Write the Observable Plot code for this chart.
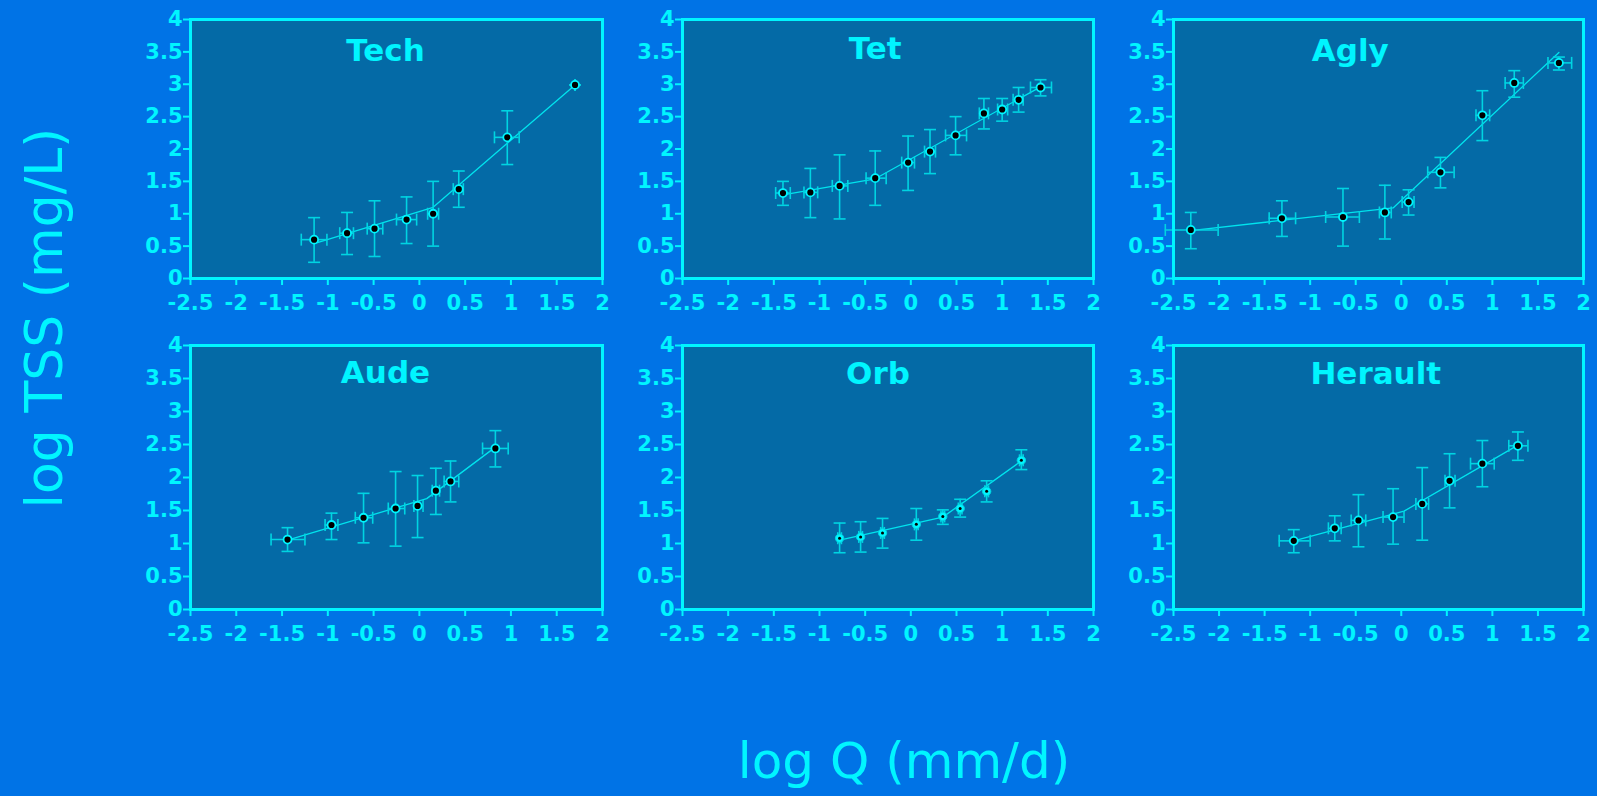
<!DOCTYPE html>
<html>
<head>
<meta charset="utf-8">
<script src="https://cdn.jsdelivr.net/npm/d3@7"></script>
<script src="https://cdn.jsdelivr.net/npm/@observablehq/plot@0.6"></script>
<style>
  html, body { margin: 0; padding: 0; background: #0073E6; overflow: hidden; }
  #root { position: relative; width: 1597px; height: 796px; background: #0073E6; }
  .big { position: absolute; font-family: "DejaVu Sans", sans-serif; color: #00F5FF; white-space: nowrap; }
</style>
</head>
<body>
<div id="root"></div>
<script>
// ---------- data ----------
const panelNames = ["Tech", "Tet", "Agly", "Aude", "Orb", "Herault"];
const titleX = [-0.37, -0.39, -0.56, -0.37, -0.36, -0.28];
const titleY = [3.52, 3.54, 3.52, 3.58, 3.57, 3.57];
const xTicks = [-2.5, -2, -1.5, -1, -0.5, 0, 0.5, 1, 1.5, 2];
const yTicks = [0, 0.5, 1, 1.5, 2, 2.5, 3, 3.5, 4];

const techX    = [-1.15, -0.79, -0.49, -0.14, 0.15, 0.43, 0.96, 1.70];
const techY    = [0.60, 0.70, 0.77, 0.91, 1.00, 1.38, 2.18, 2.99];
const techYLo  = [0.25, 0.37, 0.34, 0.54, 0.50, 1.10, 1.76, 2.99];
const techYHi  = [0.94, 1.02, 1.20, 1.26, 1.50, 1.66, 2.59, 2.99];
const techXLo  = [-1.29, -0.87, -0.57, -0.25, 0.09, 0.37, 0.82, 1.70];
const techXHi  = [-1.01, -0.72, -0.40, -0.03, 0.21, 0.48, 1.09, 1.70];
const techLineX = [-1.15, 0.15, 1.70];
const techLineY = [0.54, 1.10, 2.99];

const tetX    = [-1.40, -1.10, -0.78, -0.39, -0.03, 0.21, 0.49, 0.80, 1.00, 1.18, 1.42];
const tetY    = [1.32, 1.33, 1.43, 1.55, 1.79, 1.96, 2.21, 2.55, 2.61, 2.76, 2.95];
const tetYLo  = [1.13, 0.94, 0.92, 1.13, 1.36, 1.62, 1.91, 2.31, 2.43, 2.57, 2.82];
const tetYHi  = [1.50, 1.70, 1.91, 1.97, 2.20, 2.30, 2.50, 2.78, 2.78, 2.95, 3.07];
const tetXLo  = [-1.48, -1.17, -0.86, -0.49, -0.10, 0.15, 0.38, 0.75, 0.95, 1.12, 1.31];
const tetXHi  = [-1.32, -1.02, -0.69, -0.27, 0.04, 0.27, 0.61, 0.85, 1.06, 1.23, 1.54];
const tetLineX = [-1.40, -0.39, 1.42];
const tetLineY = [1.29, 1.54, 2.96];

const aglyX    = [-2.31, -1.31, -0.64, -0.18, 0.08, 0.43, 0.89, 1.24, 1.73];
const aglyY    = [0.75, 0.93, 0.95, 1.02, 1.18, 1.64, 2.52, 3.02, 3.33];
const aglyYLo  = [0.46, 0.65, 0.50, 0.61, 0.98, 1.40, 2.13, 2.80, 3.22];
const aglyYHi  = [1.02, 1.20, 1.39, 1.44, 1.37, 1.87, 2.90, 3.21, 3.42];
const aglyXLo  = [-2.59, -1.45, -0.83, -0.24, 0.01, 0.29, 0.82, 1.14, 1.61];
const aglyXHi  = [-2.01, -1.16, -0.46, -0.11, 0.14, 0.58, 0.97, 1.34, 1.87];
const aglyLineX = [-2.31, -0.09, 1.73];
const aglyLineY = [0.74, 1.09, 3.49];

const audeX    = [-1.44, -0.96, -0.61, -0.26, -0.02, 0.18, 0.34, 0.83];
const audeY    = [1.06, 1.28, 1.39, 1.53, 1.57, 1.80, 1.94, 2.44];
const audeYLo  = [0.88, 1.06, 1.01, 0.96, 1.09, 1.44, 1.63, 2.16];
const audeYHi  = [1.24, 1.46, 1.76, 2.09, 2.03, 2.14, 2.25, 2.71];
const audeXLo  = [-1.62, -1.03, -0.70, -0.34, -0.06, 0.14, 0.27, 0.69];
const audeXHi  = [-1.25, -0.89, -0.51, -0.16, 0.04, 0.22, 0.43, 0.97];
const audeLineX = [-1.44, 0.08, 0.83];
const audeLineY = [1.05, 1.68, 2.46];

const orbX    = [-0.78, -0.55, -0.31, 0.06, 0.35, 0.54, 0.83, 1.21];
const orbY    = [1.08, 1.10, 1.16, 1.29, 1.41, 1.53, 1.79, 2.26];
const orbYLo  = [0.86, 0.87, 0.93, 1.05, 1.29, 1.40, 1.63, 2.12];
const orbYHi  = [1.31, 1.33, 1.38, 1.53, 1.51, 1.67, 1.95, 2.42];
const orbXLo  = [-0.80, -0.57, -0.33, 0.04, 0.33, 0.52, 0.81, 1.19];
const orbXHi  = [-0.76, -0.53, -0.29, 0.08, 0.37, 0.56, 0.85, 1.23];
const orbLineX = [-0.78, 0.35, 1.21];
const orbLineY = [1.05, 1.40, 2.25];

const herX    = [-1.18, -0.73, -0.47, -0.09, 0.23, 0.53, 0.89, 1.28];
const herY    = [1.04, 1.23, 1.35, 1.40, 1.60, 1.95, 2.21, 2.48];
const herYLo  = [0.86, 1.04, 0.95, 0.99, 1.05, 1.54, 1.86, 2.26];
const herYHi  = [1.21, 1.42, 1.74, 1.83, 2.15, 2.36, 2.56, 2.69];
const herXLo  = [-1.34, -0.80, -0.55, -0.20, 0.16, 0.48, 0.76, 1.18];
const herXHi  = [-1.00, -0.66, -0.39, 0.03, 0.30, 0.59, 1.02, 1.39];
const herLineX = [-1.18, 0.03, 1.28];
const herLineY = [1.04, 1.49, 2.49];

// ---------- styling ----------
const PANEL = "#046AA6";
const CYAN = "#00F5FF";
const ERR = "#00D4E2";
const LINE = "#00E4EE";

const capH = {draw(ctx, size) { const r = Math.sqrt(size / Math.PI); ctx.moveTo(-r, 0); ctx.lineTo(r, 0); }};
const capV = {draw(ctx, size) { const r = Math.sqrt(size / Math.PI); ctx.moveTo(0, -r); ctx.lineTo(0, r); }};

function toRows(xs, ys, yLo, yHi, xLo, xHi) {
  return xs.map((x, i) => ({x, y: ys[i], yLo: yLo[i], yHi: yHi[i], xLo: xLo[i], xHi: xHi[i]}));
}

const panels = [
  {rows: toRows(techX, techY, techYLo, techYHi, techXLo, techXHi), lx: techLineX, ly: techLineY, hollow: false},
  {rows: toRows(tetX, tetY, tetYLo, tetYHi, tetXLo, tetXHi), lx: tetLineX, ly: tetLineY, hollow: false},
  {rows: toRows(aglyX, aglyY, aglyYLo, aglyYHi, aglyXLo, aglyXHi), lx: aglyLineX, ly: aglyLineY, hollow: false},
  {rows: toRows(audeX, audeY, audeYLo, audeYHi, audeXLo, audeXHi), lx: audeLineX, ly: audeLineY, hollow: false},
  {rows: toRows(orbX, orbY, orbYLo, orbYHi, orbXLo, orbXHi), lx: orbLineX, ly: orbLineY, hollow: true},
  {rows: toRows(herX, herY, herYLo, herYHi, herXLo, herXHi), lx: herLineX, ly: herLineY, hollow: false}
];

// layout: frame-left positions per column, frame-top per row
const colLeft = [190, 682, 1173];
const colWidth = [412, 411, 410];
const rowTop = [19, 345];
const rowHeight = [259, 264];
const mL = 52, mR = 16, mT = 12, mB = 36;

const root = document.getElementById("root");

panels.forEach((p, i) => {
  const col = i % 3, row = Math.floor(i / 3);
  const lineData = p.lx.map((x, k) => ({x, y: p.ly[k]}));
  const marks = [
    Plot.frame({fill: PANEL}),
    Plot.line(lineData, {x: "x", y: "y", stroke: LINE, strokeWidth: 1.3}),
    Plot.ruleX(p.rows, {x: "x", y1: "yLo", y2: "yHi", stroke: ERR, strokeWidth: 1.6}),
    Plot.ruleY(p.rows, {y: "y", x1: "xLo", x2: "xHi", stroke: ERR, strokeWidth: 1.6}),
    Plot.dot(p.rows, {x: "x", y: "yLo", symbol: capH, r: 6, fill: "none", stroke: ERR, strokeWidth: 1.6}),
    Plot.dot(p.rows, {x: "x", y: "yHi", symbol: capH, r: 6, fill: "none", stroke: ERR, strokeWidth: 1.6}),
    Plot.dot(p.rows, {x: "xLo", y: "y", symbol: capV, r: 6, fill: "none", stroke: ERR, strokeWidth: 1.6}),
    Plot.dot(p.rows, {x: "xHi", y: "y", symbol: capV, r: 6, fill: "none", stroke: ERR, strokeWidth: 1.6})
  ];
  if (p.hollow) {
    marks.push(Plot.dot(p.rows, {x: "x", y: "y", r: 4.2, fill: CYAN, stroke: ERR, strokeWidth: 1}));
    marks.push(Plot.dot(p.rows, {x: "x", y: "y", r: 1.5, fill: "black"}));
  } else {
    marks.push(Plot.dot(p.rows, {x: "x", y: "y", r: 4, fill: "black", stroke: CYAN, strokeWidth: 1.8}));
  }
  marks.push(
    Plot.text([panelNames[i]], {x: titleX[i], y: titleY[i], text: d => d, fill: CYAN, fontSize: 31, fontWeight: "bold"}),
    Plot.frame({stroke: CYAN, strokeWidth: 3}),
    Plot.axisX({ticks: xTicks, tickSize: 7, tickPadding: 10, tickFormat: d => String(d), stroke: CYAN, strokeWidth: 2, fill: CYAN, fontSize: 21, fontWeight: "bold", label: null}),
    Plot.axisY({ticks: yTicks, tickSize: 7, tickPadding: 1, tickFormat: d => String(d), stroke: CYAN, strokeWidth: 2, fill: CYAN, fontSize: 21, fontWeight: "bold", label: null})
  );
  const svg = Plot.plot({
    width: mL + colWidth[col] + mR,
    height: mT + rowHeight[row] + mB,
    marginLeft: mL, marginRight: mR, marginTop: mT, marginBottom: mB,
    x: {domain: [-2.5, 2]},
    y: {domain: [0, 4]},
    style: {background: "transparent", color: CYAN, fontFamily: "'DejaVu Sans', sans-serif", fontSize: "21px", fontWeight: "bold", overflow: "visible"},
    marks
  });
  svg.style.position = "absolute";
  svg.style.left = (colLeft[col] - mL) + "px";
  svg.style.top = (rowTop[row] - mT) + "px";
  root.appendChild(svg);
});

// axis titles
const yLab = document.createElement("div");
yLab.className = "big";
yLab.textContent = "log TSS (mg/L)";
yLab.style.fontSize = "52px";
yLab.style.left = "70px";
yLab.style.top = "318px";
yLab.style.transformOrigin = "0 0";
yLab.style.transform = "rotate(-90deg) translate(-50%, -100%)";
yLab.style.lineHeight = "1";
root.appendChild(yLab);

const xLab = document.createElement("div");
xLab.className = "big";
xLab.textContent = "log Q (mm/d)";
xLab.style.fontSize = "50px";
xLab.style.left = "904px";
xLab.style.top = "736px";
xLab.style.transform = "translateX(-50%)";
xLab.style.lineHeight = "1";
root.appendChild(xLab);
</script>
</body>
</html>
